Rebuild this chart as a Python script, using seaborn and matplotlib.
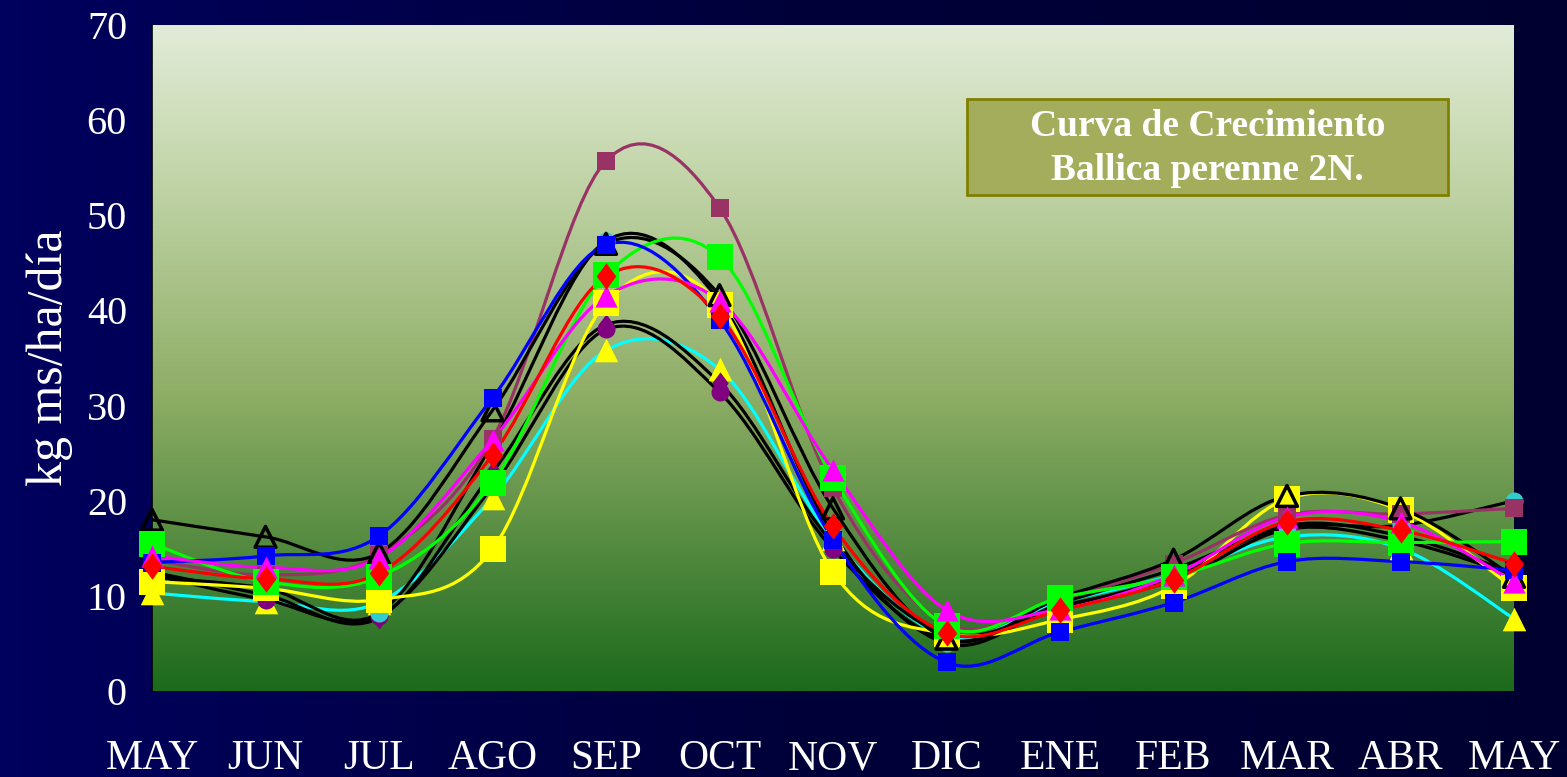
"""
Curva de crecimiento - Ballica perenne 2N.
Writes out.png
"""
import numpy as np
import pandas as pd
import matplotlib
matplotlib.use("Agg")
import matplotlib.pyplot as plt
from matplotlib.path import Path
from matplotlib.patches import PathPatch, Rectangle
from matplotlib.colors import LinearSegmentedColormap
import seaborn as sns

sns.set_theme(style="white")
plt.rcParams["font.family"] = ["Liberation Serif", "DejaVu Serif"]

MONTHS = ["MAY", "JUN", "JUL", "AGO", "SEP", "OCT", "NOV",
          "DIC", "ENE", "FEB", "MAR", "ABR", "MAY"]
Y_TICKS = [0, 10, 20, 30, 40, 50, 60, 70]

# kg ms/ha/dia (one list per line)
cyan_tri = [10.3, 9.4, 9.3, 20.3, 35.8, 33.8, 16.0, 5.8, 9.3, 12.2, 16.2, 15.0, 7.6]
purple_circ = [12.2, 9.6, 7.9, 21.5, 38.0, 31.4, 14.9, 5.4, 8.9, 11.6, 17.0, 15.8, 12.2]
purple_diam = [12.5, 10.1, 7.7, 23.0, 38.5, 32.4, 15.5, 6.0, 8.8, 12.0, 17.4, 16.3, 12.4]
teal_circ = [12.0, 10.8, 8.2, 26.0, 47.3, 41.0, 16.5, 5.0, 9.2, 12.8, 17.2, 17.4, 20.0]
yellow_sq = [11.5, 10.8, 9.6, 14.9, 40.8, 40.6, 12.5, 6.0, 7.5, 11.0, 20.2, 19.0, 10.8]
maroon_sq = [13.8, 12.2, 14.3, 26.5, 55.7, 50.8, 21.3, 7.1, 9.6, 13.4, 18.5, 18.6, 19.2]
black_tri = [18.0, 16.2, 14.5, 29.5, 47.0, 41.6, 19.2, 5.5, 9.8, 13.8, 20.5, 19.2, 12.0]
green_sq = [15.5, 11.5, 12.0, 21.9, 43.7, 45.6, 22.4, 6.8, 9.8, 12.0, 15.5, 15.6, 15.7]
blue_sq = [13.5, 14.2, 16.3, 30.8, 46.9, 39.0, 15.9, 3.0, 6.2, 9.3, 13.6, 13.6, 12.7]
magenta_tri = [14.2, 13.0, 14.0, 26.4, 41.5, 41.0, 23.2, 8.5, 8.6, 12.2, 18.3, 17.8, 11.5]
red_diam = [13.1, 11.8, 12.4, 24.8, 43.6, 39.4, 17.3, 6.1, 8.5, 11.7, 17.8, 16.9, 13.4]

DIAMOND = [(0, 0.5), (0.37, 0), (0, -0.5), (-0.37, 0), (0, 0.5)]

# drawing order = bottom to top
# (values, line colour, marker, marker size pt, face, edge)
SERIES = [
    (cyan_tri, "#00ffff", "^", 17, "#ffff00", None),
    (purple_circ, "black", "o", 13, "#800080", None),
    (purple_diam, "black", DIAMOND, 16, "#800080", None),
    (teal_circ, "black", "o", 13, "#33cccc", None),
    (yellow_sq, "#ffff00", "s", 18.5, "#ffff00", None),
    (maroon_sq, "#993366", "s", 13, "#993366", None),
    (black_tri, "black", "^", 15, "none", "black"),
    (green_sq, "#00ff00", "s", 18.5, "#00ff00", None),
    (blue_sq, "#0000ff", "s", 13, "#0000ff", None),
    (magenta_tri, "#ff00ff", "^", 16, "#ff00ff", None),
    (red_diam, "#ff0000", DIAMOND, 19, "#ff0000", None),
]


def smooth_path(xs, ys):
    # Excel-like smoothed line: cubic Bezier through every data point
    pts = np.column_stack([xs, ys]).astype(float)
    n = len(pts)
    verts, codes = [pts[0]], [Path.MOVETO]
    for i in range(n - 1):
        p0, p1 = pts[max(i - 1, 0)], pts[i]
        p2, p3 = pts[i + 1], pts[min(i + 2, n - 1)]
        verts += [p1 + (p2 - p0) / 6, p2 - (p3 - p1) / 6, p2]
        codes += [Path.CURVE4] * 3
    return Path(verts, codes)


fig = plt.figure(figsize=(15.67, 7.77), dpi=100)

# navy backdrop
bg = fig.add_axes([0, 0, 1, 1], zorder=-10)
bg.imshow(np.linspace(0, 1, 256)[None, :], aspect="auto", extent=[0, 1, 0, 1],
          cmap=LinearSegmentedColormap.from_list("navy", ["#00005e", "#00003a", "#000030"]))
bg.set_axis_off()

ax = fig.add_axes([152 / 1567, 86 / 777, 1362 / 1567, 666 / 777])
ax.set_xlim(0, len(MONTHS) - 1)
ax.set_ylim(0, 70)
ax.patch.set_alpha(0)

plot_bg = LinearSegmentedColormap.from_list(
    "plot", [(0.0, "#1c6a1c"), (0.45, "#8fae66"), (0.8, "#c6d8ae"), (1.0, "#e2ebd8")])
ax.imshow(np.linspace(0, 1, 256)[:, None], aspect="auto", origin="lower",
          extent=[0, len(MONTHS) - 1, 0, 70], cmap=plot_bg, zorder=0)

x = np.arange(len(MONTHS))
for vals, lc, *_ in SERIES:
    ax.add_patch(PathPatch(smooth_path(x, vals), facecolor="none", edgecolor=lc,
                           lw=2.3, zorder=2, capstyle="round", joinstyle="round"))

for i, (vals, lc, mk, ms, face, edge) in enumerate(SERIES):
    df = pd.DataFrame({"mes": x, "valor": vals})
    sns.scatterplot(data=df, x="mes", y="valor", marker=mk, s=ms ** 2,
                    color=face if face != "none" else "black",
                    linewidth=0, ax=ax, zorder=3 + i, legend=False)
    coll = ax.collections[-1]
    if face == "none":
        coll.set_facecolor("none")
        coll.set_edgecolor(edge)
        coll.set_linewidth(2.5)
    coll.set_clip_on(False)

# title box
ax.add_patch(Rectangle((7.18, 52.1), 4.24, 10.1, facecolor="#a4ad5c",
                       edgecolor="#808000", lw=2, zorder=20))
ax.text(9.30, 57.0, "Curva de Crecimiento\nBallica perenne 2N.", ha="center",
        va="center", color="white", fontsize=27, fontweight="bold",
        linespacing=1.35, zorder=21)

ax.set_xticks(x)
ax.set_xticklabels(MONTHS)
ax.set_yticks(Y_TICKS)
ax.tick_params(axis="both", colors="black", direction="inout", length=16,
               width=1.2, labelcolor="white")
ax.tick_params(axis="x", labelsize=30, pad=27)
ax.tick_params(axis="y", labelsize=29, pad=10)
ax.set_xlabel("")
ax.set_ylabel("kg ms/ha/día", color="white", fontsize=36, labelpad=10)
for side in ["top", "right", "bottom"]:
    ax.spines[side].set_visible(False)
ax.spines["left"].set_color("black")
ax.spines["left"].set_linewidth(1.2)

fig.savefig("out.png", dpi=100)
